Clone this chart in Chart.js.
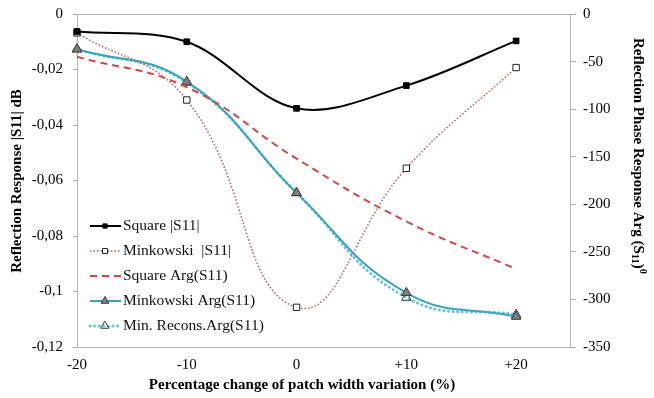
<!DOCTYPE html>
<html>
<head>
<meta charset="utf-8">
<script src="https://cdn.jsdelivr.net/npm/chart.js@4"></script>
<style>
  html, body { margin: 0; padding: 0; background: #fff; }
  #wrap { width: 654px; height: 398px; }
</style>
</head>
<body>
<div id="wrap"><canvas id="chart" width="654" height="398"></canvas></div>
<script>
// values
const widthChange = [-20, -10, 0, 10, 20];
const xTicks = [-20, -10, 0, 10, 20];
const squareMag = [-0.0063, -0.0100, -0.0340, -0.0258, -0.0097];
const minkMag = [-0.0068, -0.0310, -0.1057, -0.0556, -0.0193];
const squareArg = [-45, -77, -152, -218, -268];
const minkArg = [-37, -71, -188, -293, -318];
const reconsArg = [-37, -72, -188, -298, -316];
const legendLabels = ["Square |S11|", "Minkowski  |S11|", "Square Arg(S11)", "Minkowski Arg(S11)", "Min. Recons.Arg(S11)"];

const pts = ys => ys.map((y, i) => ({ x: widthChange[i], y }));
const serif = "'Liberation Serif', 'Times New Roman', serif";

const frame = {
  id: "frame",
  beforeDatasetsDraw(chart) {
    const a = chart.chartArea, ctx = chart.ctx;
    ctx.save();
    ctx.strokeStyle = "#b4b4b4";
    ctx.lineWidth = 1;
    ctx.strokeRect(a.left + 0.5, a.top + 0.5, a.right - a.left - 1, a.bottom - a.top);
    ctx.restore();
  },
  afterDraw(chart) {
    const ctx = chart.ctx;
    // legend inside the plot
    chart.data.datasets.forEach((ds, i) => {
      const y = 226 + i * 25;
      ctx.save();
      ctx.strokeStyle = ds.borderColor;
      ctx.lineWidth = ds.borderWidth;
      ctx.lineCap = ds.borderCapStyle || "butt";
      ctx.setLineDash(ds.borderDash || []);
      ctx.beginPath();
      ctx.moveTo(90, y);
      ctx.lineTo(121, y);
      ctx.stroke();
      if (ds.pointRadius > 0) {
        ctx.setLineDash([]);
        ctx.fillStyle = ds.pointBackgroundColor;
        ctx.strokeStyle = ds.pointBorderColor;
        ctx.lineWidth = ds.pointBorderWidth;
        Chart.helpers.drawPoint(ctx, { pointStyle: ds.pointStyle, radius: ds.pointRadius - 1, rotation: 0, borderWidth: ds.pointBorderWidth }, 105, y);
      }
      ctx.fillStyle = "#111";
      ctx.font = "15.5px " + serif;
      ctx.textBaseline = "middle";
      ctx.textAlign = "left";
      ctx.fillText(legendLabels[i], 123, y);
      ctx.restore();
    });

    // axis titles
    ctx.save();
    ctx.fillStyle = "#000";
    ctx.font = "bold 15px " + serif;
    ctx.textAlign = "center";
    ctx.textBaseline = "middle";
    ctx.fillText("Percentage change of patch width variation (%)", 302, 385);
    ctx.translate(17, 181);
    ctx.rotate(-Math.PI / 2);
    ctx.fillText("Reflection Response |S11| dB", 0, 0);
    ctx.restore();

    ctx.save();
    ctx.fillStyle = "#000";
    ctx.translate(638, 38);
    ctx.rotate(Math.PI / 2);
    ctx.textAlign = "left";
    ctx.textBaseline = "middle";
    let x = 0;
    const part = (txt, size, dy) => {
      ctx.font = "bold " + size + "px " + serif;
      ctx.fillText(txt, x, dy);
      x += ctx.measureText(txt).width;
    };
    part("Reflection Phase Response Arg (S", 15, 0);
    part("11", 10.5, 3);
    part(")", 15, 0);
    part("0", 10.5, -5);
    ctx.restore();
  }
};

new Chart(document.getElementById("chart").getContext("2d"), {
  type: "line",
  data: {
    datasets: [
      {
        label: legendLabels[0], data: pts(squareMag), yAxisID: "y",
        borderColor: "#000", borderWidth: 2, tension: 0.35, clip: false,
        pointStyle: "rect", pointRadius: 4, pointBackgroundColor: "#000", pointBorderColor: "#000", pointBorderWidth: 1
      },
      {
        label: legendLabels[1], data: pts(minkMag), yAxisID: "y",
        borderColor: "#b95b58", borderWidth: 1.5, borderDash: [1.5, 2], tension: 0.45, clip: false,
        pointStyle: "rect", pointRadius: 4.5, pointBackgroundColor: "#fff", pointBorderColor: "#222", pointBorderWidth: 1
      },
      {
        label: legendLabels[2], data: pts(squareArg), yAxisID: "y1",
        borderColor: "#d94545", borderWidth: 2, borderDash: [7, 5], tension: 0.45, clip: false,
        pointRadius: 0
      },
      {
        label: legendLabels[3], data: pts(minkArg), yAxisID: "y1",
        borderColor: "#3aa5ba", borderWidth: 2, tension: 0.45, clip: false,
        pointStyle: "triangle", pointRadius: 5.5, pointBackgroundColor: "#7f7f7f", pointBorderColor: "#3a3a3a", pointBorderWidth: 1
      },
      {
        label: legendLabels[4], data: pts(reconsArg), yAxisID: "y1",
        borderColor: "#5cc8e0", borderWidth: 3, borderDash: [0.1, 4.5], borderCapStyle: "round", tension: 0.45, clip: false,
        pointStyle: "triangle", pointRadius: 5.5, pointBackgroundColor: "rgba(255,255,255,0)", pointBorderColor: "#3a3a3a", pointBorderWidth: 1
      }
    ]
  },
  options: {
    responsive: false,
    animation: false,
    layout: { padding: { top: 14, left: 0, right: 0, bottom: 0 } },
    plugins: { legend: { display: false }, tooltip: { enabled: false } },
    scales: {
      x: {
        type: "linear", min: -20, max: 25,
        afterBuildTicks: s => { s.ticks = xTicks.map(v => ({ value: v })); },
        afterFit: s => { s.height = 51; s.paddingLeft = 0; s.paddingRight = 0; },
        grid: { display: false },
        border: { display: false },
        ticks: {
          padding: 1, color: "#000", font: { family: serif, size: 15 },
          callback: v => (v > 0 ? "+" + v : String(v))
        }
      },
      y: {
        position: "left", min: -0.12, max: 0,
        afterBuildTicks: s => { s.ticks = [0, -0.02, -0.04, -0.06, -0.08, -0.1, -0.12].map(v => ({ value: v })); },
        afterFit: s => { s.width = 77; s.paddingTop = 0; s.paddingBottom = 0; },
        grid: { drawOnChartArea: false, drawTicks: true, tickLength: 4, color: "#a8a8a8" },
        border: { display: false },
        ticks: {
          padding: 10, color: "#000", font: { family: serif, size: 15 },
          callback: v => (v === 0 ? "0" : String(Math.round(v * 100) / 100).replace(".", ","))
        }
      },
      y1: {
        position: "right", min: -350, max: 0,
        afterBuildTicks: s => { s.ticks = [0, -50, -100, -150, -200, -250, -300, -350].map(v => ({ value: v })); },
        afterFit: s => { s.width = 83; s.paddingTop = 0; s.paddingBottom = 0; },
        grid: { drawOnChartArea: false, drawTicks: true, tickLength: 5, color: "#a8a8a8" },
        border: { display: false },
        ticks: { padding: 7, color: "#000", font: { family: serif, size: 15 } }
      }
    }
  },
  plugins: [frame]
});
</script>
</body>
</html>
